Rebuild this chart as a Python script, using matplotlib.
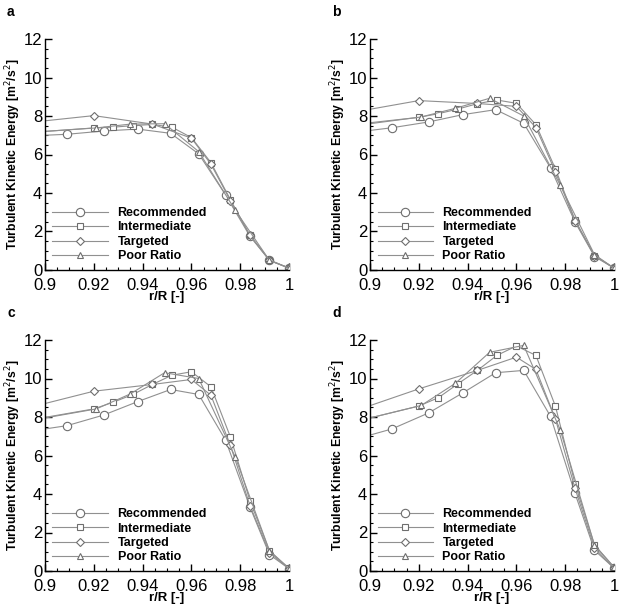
import matplotlib
matplotlib.use('Agg')
import matplotlib.pyplot as plt
from matplotlib.ticker import MultipleLocator, FuncFormatter

plt.rcParams['font.family'] = ['Liberation Sans', 'DejaVu Sans']

series_names = ['Recommended', 'Intermediate', 'Targeted', 'Poor Ratio']
markers = ['o', 's', 'D', '^']
panel_labels = ['a', 'b', 'c', 'd']

# radial positions (first value sits on the axis edge, no marker drawn there)
x_rec = [0.9, 0.909, 0.924, 0.938, 0.9515, 0.963, 0.974, 0.984, 0.992, 1.0]
x_int = [0.9, 0.920, 0.928, 0.936, 0.944, 0.952, 0.960, 0.968, 0.976, 0.984, 0.992, 1.0]
x_tar = [0.9, 0.920, 0.944, 0.960, 0.968, 0.976, 0.984, 0.992, 1.0]
x_poor = [0.9, 0.921, 0.935, 0.949, 0.963, 0.978, 0.992, 1.0]

# panel a
a_rec = [7.0, 7.05, 7.22, 7.32, 7.1, 6.03, 3.9, 1.75, 0.5, 0.1]
a_int = [7.2, 7.38, 7.42, 7.5, 7.56, 7.42, 6.88, 5.58, 3.65, 1.8, 0.52, 0.1]
a_tar = [7.75, 8.02, 7.58, 6.85, 5.5, 3.6, 1.8, 0.5, 0.1]
a_poor = [7.2, 7.38, 7.58, 7.6, 6.15, 3.1, 0.5, 0.1]

# panel b
b_rec = [7.25, 7.39, 7.69, 8.07, 8.33, 7.62, 5.3, 2.5, 0.7, 0.1]
b_int = [7.65, 7.93, 8.12, 8.36, 8.64, 8.83, 8.66, 7.55, 5.25, 2.6, 0.75, 0.1]
b_tar = [8.35, 8.8, 8.65, 8.5, 7.4, 5.1, 2.55, 0.75, 0.1]
b_poor = [7.6, 7.95, 8.4, 8.92, 8.0, 4.4, 0.8, 0.1]

# panel c
c_rec = [7.38, 7.55, 8.1, 8.8, 9.43, 9.17, 6.8, 3.32, 0.85, 0.12]
c_int = [7.98, 8.42, 8.77, 9.17, 9.69, 10.17, 10.35, 9.57, 6.96, 3.65, 1.05, 0.15]
c_tar = [8.7, 9.34, 9.69, 9.95, 9.13, 6.52, 3.4, 0.95, 0.12]
c_poor = [7.95, 8.42, 9.2, 10.3, 10.0, 5.91, 1.05, 0.12]

# panel d
d_rec = [7.06, 7.38, 8.21, 9.25, 10.3, 10.42, 8.03, 4.04, 1.08, 0.15]
d_int = [7.95, 8.57, 9.0, 9.72, 10.42, 11.2, 11.69, 11.2, 8.56, 4.54, 1.35, 0.2]
d_tar = [8.59, 9.46, 10.42, 11.11, 10.47, 7.9, 4.3, 1.2, 0.15]
d_poor = [7.95, 8.6, 9.75, 11.36, 11.72, 7.32, 1.35, 0.2]

panels = [
    (a_rec, a_int, a_tar, a_poor),
    (b_rec, b_int, b_tar, b_poor),
    (c_rec, c_int, c_tar, c_poor),
    (d_rec, d_int, d_tar, d_poor),
]
xs = [x_rec, x_int, x_tar, x_poor]
msizes = [6, 4, 4, 5]

fig = plt.figure(figsize=(6.24, 6.06), dpi=100)

positions = [
    (45, 39), (370, 39),
    (45, 340), (370, 340),
]
W, H = 624, 606
aw, ah = 244, 231

for i, (px, py) in enumerate(positions):
    ax = fig.add_axes([px / W, 1 - (py + ah) / H, aw / W, ah / H])
    for x, y, name, m, ms in zip(xs, panels[i], series_names, markers, msizes):
        ax.plot(x, y, color='#909090', lw=0.8, marker=m, ms=ms,
                mfc='white', mec='#6e6e6e', mew=0.8,
                markevery=slice(1, None), label=name)
    ax.set_xlim(0.9, 1.0)
    ax.set_ylim(0, 12)
    ax.xaxis.set_major_locator(MultipleLocator(0.02))
    ax.xaxis.set_minor_locator(MultipleLocator(0.005))
    ax.yaxis.set_major_locator(MultipleLocator(2))
    ax.yaxis.set_minor_locator(MultipleLocator(0.5))
    ax.xaxis.set_major_formatter(FuncFormatter(lambda v, p: '%g' % round(v, 3)))
    ax.spines['top'].set_visible(False)
    ax.spines['right'].set_visible(False)
    ax.spines['left'].set_linewidth(1.0)
    ax.spines['bottom'].set_linewidth(1.0)
    ax.tick_params(which='major', direction='in', length=5, width=1.0,
                   labelsize=12, pad=2)
    ax.tick_params(axis='x', which='major', pad=5.5)
    ax.tick_params(which='minor', direction='in', length=2.5, width=0.8)
    ax.set_xlabel('r/R [-]', fontsize=9.5, fontweight='bold', labelpad=-1)
    ax.set_ylabel('Turbulent Kinetic Energy [m$^2$/s$^2$]', fontsize=8.8,
                  fontweight='bold')
    ax.yaxis.set_label_coords(-0.09, 0.5)
    ax.legend(loc='lower left', bbox_to_anchor=(0.0, 0.0), frameon=False,
              handlelength=4.4, handletextpad=0.8, labelspacing=0.2,
              borderpad=0.1, prop={'weight': 'bold', 'size': 9})
    fig.text((px - 38) / W, 1 - (py - 27) / H, panel_labels[i],
             fontsize=10, fontweight='bold', va='center', ha='left')

fig.savefig('out.png', dpi=100)
